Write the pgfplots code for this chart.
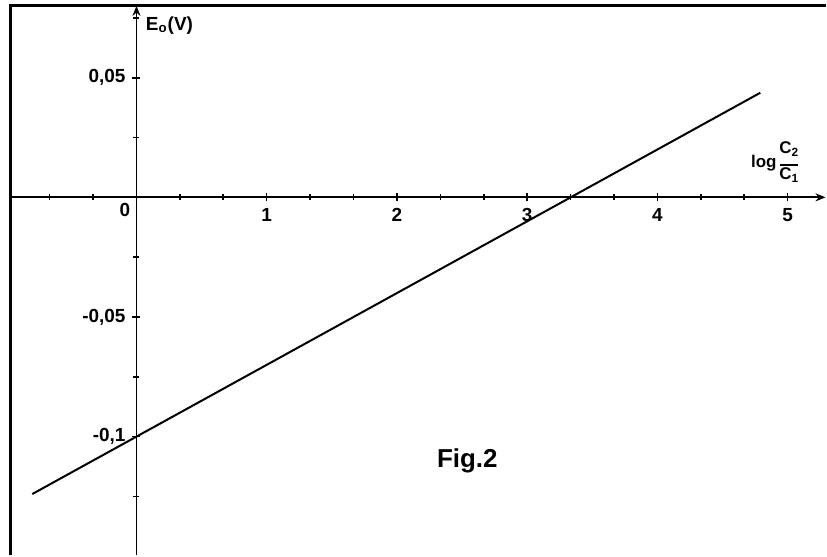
\documentclass[border=0pt]{standalone}
\usepackage{pgfplots}
\pgfplotsset{compat=1.18}
\usetikzlibrary{arrows.meta}
\usepackage{fontspec}
\setmainfont{Liberation Sans}
\begin{document}
\begin{tikzpicture}
\begin{axis}[
  scale only axis, width=413.5pt, height=278pt,
  xmin=-1.041, xmax=5.291, ymin=-0.1496, ymax=0.0821,
  axis lines=middle,
  axis line style={line width=0.9pt},
  x axis line style={-{Stealth[length=5pt,width=4pt]}, shorten <=5pt},
  y axis line style={-{Stealth[length=5pt,width=4pt]}, shorten >=2.5pt},
  xtick={1,2,3,4,5}, xticklabels={1,2,3,4,5},
  ytick={-0.1,-0.05,0.05}, yticklabels={{-0,1},{-0,05},{0,05}},
  minor xtick={-0.6667,-0.3333,0.3333,0.6667,1.3333,1.6667,2.3333,2.6667,3.3333,3.6667,4.3333,4.6667},
  minor ytick={-0.125,-0.075,-0.025,0.025,0.075},
  tick align=center, major tick length=4pt, minor tick length=3pt,
  tick style={line width=0.8pt, black},
  ticklabel style={font=\bfseries\fontsize{9.5}{11}\selectfont},
  clip=false,
]
\addplot[line width=1pt, black] coordinates {(-0.8,-0.124) (0,-0.1) (3.334,0) (4.79,0.0437)};
\draw[line width=1.5pt] (axis cs:-0.965,-0.1496) -- (axis cs:-0.965,0.08) -- (axis cs:5.291,0.08);
\node[anchor=north east, font=\bfseries\fontsize{9.5}{11}\selectfont, inner sep=3pt] at (axis cs:0,0) {0};
\node[anchor=west, font=\bfseries\fontsize{9.5}{11}\selectfont, inner sep=0pt] at (axis cs:0.07,0.0717) {E\textsubscript{o}(V)};
\node[anchor=west, font=\bfseries\fontsize{8.5}{9}\selectfont, inner sep=0pt] at (axis cs:4.717,0.0142) {log\,\begin{tabular}{@{}c@{}}C\textsubscript{2}\\[-3pt]\rule{9pt}{0.8pt}\\[-2pt]C\textsubscript{1}\end{tabular}};
\node[font=\bfseries\fontsize{13}{15}\selectfont] at (axis cs:2.54,-0.110) {Fig.2};
\end{axis}
\end{tikzpicture}
\end{document}
